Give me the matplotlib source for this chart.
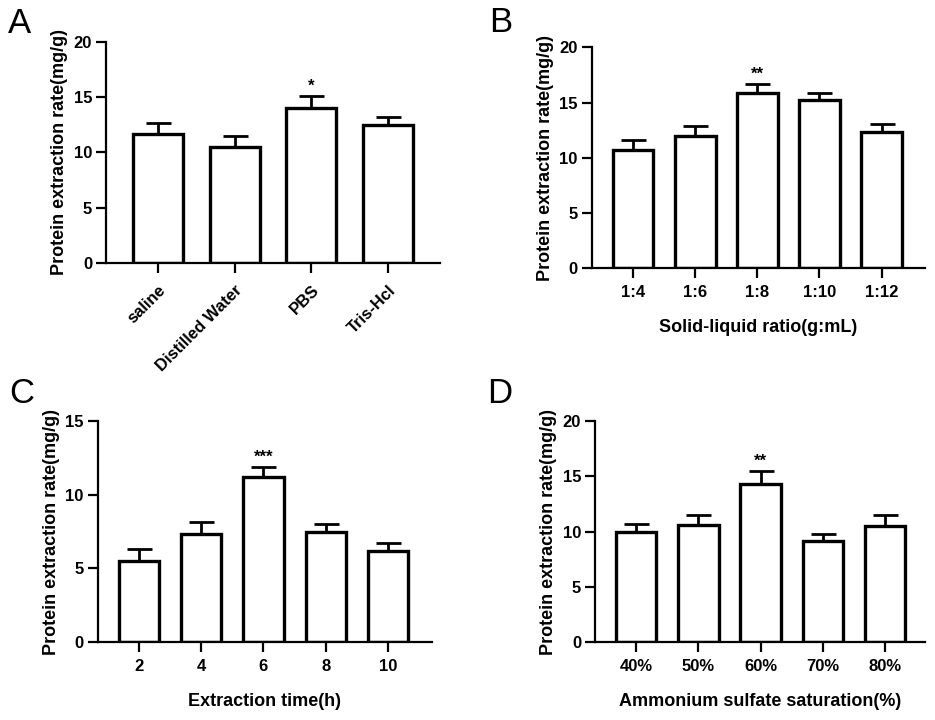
import numpy as np
import matplotlib
matplotlib.use("Agg")
import matplotlib.pyplot as plt

plt.rcParams["font.family"] = ["Liberation Sans", "DejaVu Sans"]

# Panel A - extraction solvent
solvents = ["saline", "Distilled Water", "PBS", "Tris-Hcl"]
solvent_mean = [11.7, 10.5, 14.0, 12.45]
solvent_err = [0.95, 1.0, 1.1, 0.8]
solvent_sig = ["", "", "*", ""]

# Panel B - solid-liquid ratio
ratios = ["1:4", "1:6", "1:8", "1:10", "1:12"]
ratio_mean = [10.7, 11.95, 15.85, 15.2, 12.35]
ratio_err = [0.9, 0.95, 0.8, 0.7, 0.75]
ratio_sig = ["", "", "**", "", ""]

# Panel C - extraction time
times = ["2", "4", "6", "8", "10"]
time_mean = [5.5, 7.35, 11.2, 7.45, 6.2]
time_err = [0.82, 0.77, 0.67, 0.57, 0.52]
time_sig = ["", "", "***", "", ""]

# Panel D - ammonium sulfate saturation
satur = ["40%", "50%", "60%", "70%", "80%"]
satur_mean = [9.95, 10.6, 14.3, 9.2, 10.55]
satur_err = [0.75, 0.9, 1.18, 0.6, 0.95]
satur_sig = ["", "", "**", "", ""]

YLABEL = "Protein extraction rate(mg/g)"

fig = plt.figure(figsize=(9.35, 7.2), dpi=100)


def draw_panel(rect, labels, means, errs, sigs, ymax, xlabel, xlim, rotate=False):
    ax = fig.add_axes(rect)
    x = np.arange(len(labels))
    ax.bar(x, means, width=0.65, color="white", edgecolor="black", linewidth=2.4, zorder=2)
    ax.errorbar(x, means, yerr=[np.zeros(len(errs)), errs], fmt="none",
                ecolor="black", elinewidth=2.0, capsize=9, capthick=2.0, zorder=1)
    for xi, m, e, s in zip(x, means, errs, sigs):
        if s:
            ax.text(xi, m + e + ymax * 0.01, s, ha="center", va="bottom",
                    fontsize=12, fontweight="bold")
    ax.set_ylim(0, ymax)
    ax.set_xlim(*xlim)
    ax.set_yticks(np.arange(0, ymax + 1, 5))
    ax.set_xticks(x)
    if rotate:
        ax.set_xticklabels(labels, rotation=45, ha="right", rotation_mode="anchor",
                           fontsize=12, fontweight="bold")
    else:
        ax.set_xticklabels(labels, fontsize=12, fontweight="bold")
    for t in ax.get_yticklabels():
        t.set_fontsize(12)
        t.set_fontweight("bold")
    ax.spines["top"].set_visible(False)
    ax.spines["right"].set_visible(False)
    ax.spines["left"].set_linewidth(1.6)
    ax.spines["bottom"].set_linewidth(1.6)
    ax.tick_params(axis="both", direction="out", length=7, width=1.6, pad=3)
    if rotate:
        ax.tick_params(axis="x", pad=7)
    else:
        ax.tick_params(axis="x", pad=5)
    ax.set_ylabel(YLABEL, fontsize=13, fontweight="bold", labelpad=4)
    if xlabel:
        ax.set_xlabel(xlabel, fontsize=13, fontweight="bold", labelpad=14)
    return ax


draw_panel([0.1134, 0.6347, 0.3572, 0.307], solvents, solvent_mean, solvent_err,
           solvent_sig, 20, None, (-0.68, 3.68), rotate=True)
draw_panel([0.6328, 0.6274, 0.3565, 0.3069], ratios, ratio_mean, ratio_err,
           ratio_sig, 20, "Solid-liquid ratio(g:mL)", (-0.67, 4.7))
draw_panel([0.1045, 0.1079, 0.3572, 0.3078], times, time_mean, time_err,
           time_sig, 15, "Extraction time(h)", (-0.66, 4.7))
draw_panel([0.6364, 0.1079, 0.3529, 0.3074], satur, satur_mean, satur_err,
           satur_sig, 20, "Ammonium sulfate saturation(%)", (-0.66, 4.64))

for letter, lx, ly in [("A", 0.008, 0.954), ("B", 0.523, 0.9556),
                       ("C", 0.0100, 0.4403), ("D", 0.521, 0.4403)]:
    fig.text(lx, ly, letter, fontsize=25, ha="left", va="baseline")

fig.savefig("out.png", dpi=100)
